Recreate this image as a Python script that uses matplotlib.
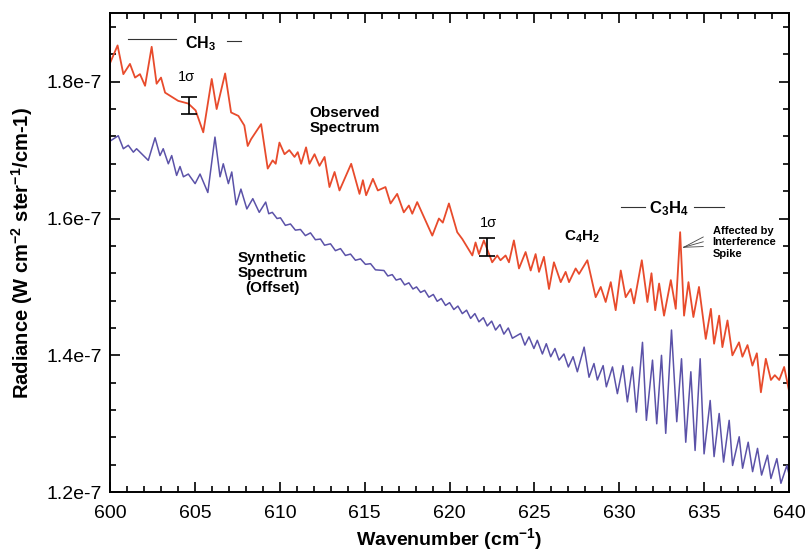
import numpy as np
import matplotlib
matplotlib.use('Agg')
import matplotlib.pyplot as plt
from matplotlib.ticker import MultipleLocator, FuncFormatter

plt.rcParams['font.family'] = ['Liberation Sans', 'DejaVu Sans']
plt.rcParams['mathtext.fontset'] = 'custom'
plt.rcParams['mathtext.rm'] = 'Liberation Sans'
plt.rcParams['mathtext.bf'] = 'Liberation Sans:bold'
plt.rcParams['mathtext.default'] = 'bf'

# Observed spectrum (radiance in units of 1e-7)
obs_wn = [600.00, 600.43, 600.77, 601.16, 601.46, 601.75, 602.05, 602.44, 602.73, 602.99,
          603.23, 604.00, 604.60, 605.03, 605.48, 605.98, 606.27, 606.77, 607.12, 607.55,
          607.90, 608.10, 608.30, 608.89, 609.28, 609.57, 609.75, 609.97, 610.27, 610.55,
          610.86, 611.05, 611.25, 611.54, 611.74, 612.04, 612.33, 612.63, 612.92, 613.22,
          613.51, 614.20, 614.69, 614.89, 615.08, 615.48, 615.77, 616.22, 616.52, 616.91,
          617.30, 617.60, 617.80, 618.09, 618.98, 619.37, 619.60, 619.96, 620.45, 620.75,
          621.34, 621.53, 621.73, 622.02, 622.51, 622.81, 623.00, 623.30, 623.50, 623.79,
          624.09, 624.48, 624.78, 625.07, 625.27, 625.56, 625.86, 626.15, 626.55, 626.84,
          627.04, 627.43, 627.63, 628.12, 628.61, 628.91, 629.20, 629.50, 629.79, 630.09,
          630.38, 630.68, 630.87, 631.33, 631.66, 631.90, 632.12, 632.35, 632.64, 633.04,
          633.33, 633.59, 633.82, 634.08, 634.37, 634.70, 635.10, 635.40, 635.59, 635.89,
          636.08, 636.38, 636.67, 637.06, 637.26, 637.56, 637.85, 638.11, 638.35, 638.64,
          638.94, 639.17, 639.43, 639.72, 640.00]
obs_val = [1.828, 1.853, 1.811, 1.826, 1.806, 1.811, 1.794, 1.851, 1.797, 1.806,
           1.784, 1.772, 1.768, 1.758, 1.726, 1.804, 1.760, 1.812, 1.755, 1.750,
           1.736, 1.706, 1.716, 1.738, 1.673, 1.685, 1.680, 1.711, 1.694, 1.700,
           1.690, 1.697, 1.680, 1.704, 1.680, 1.694, 1.677, 1.690, 1.646, 1.668,
           1.641, 1.680, 1.636, 1.656, 1.634, 1.658, 1.641, 1.646, 1.622, 1.636,
           1.609, 1.619, 1.607, 1.624, 1.575, 1.600, 1.594, 1.622, 1.580, 1.570,
           1.546, 1.565, 1.548, 1.568, 1.536, 1.546, 1.539, 1.546, 1.536, 1.568,
           1.527, 1.551, 1.524, 1.548, 1.522, 1.544, 1.497, 1.536, 1.507, 1.522,
           1.507, 1.527, 1.519, 1.539, 1.485, 1.500, 1.478, 1.507, 1.466, 1.524,
           1.485, 1.497, 1.476, 1.539, 1.478, 1.520, 1.466, 1.505, 1.458, 1.510,
           1.468, 1.580, 1.458, 1.507, 1.456, 1.500, 1.424, 1.468, 1.417, 1.458,
           1.412, 1.451, 1.400, 1.419, 1.398, 1.415, 1.385, 1.403, 1.346, 1.395,
           1.364, 1.371, 1.364, 1.383, 1.349]

# Synthetic spectrum (offset), units of 1e-7
syn_wn = [600.04, 600.47, 600.77, 601.06, 601.36, 601.55, 602.24, 602.64, 602.93, 603.12,
          603.42, 603.62, 603.91, 604.11, 604.31, 604.60, 605.00, 605.29, 605.75, 606.17,
          606.47, 606.66, 606.96, 607.16, 607.42, 607.70, 608.05, 608.40, 608.78, 609.16,
          609.34, 609.55, 609.83, 610.03, 610.32, 610.62, 610.91, 611.21, 611.50, 611.80,
          612.09, 612.39, 612.63, 612.98, 613.27, 613.57, 613.86, 614.16, 614.45, 614.75,
          615.04, 615.34, 615.63, 616.13, 616.36, 616.62, 616.85, 617.11, 617.35, 617.60,
          617.84, 618.05, 618.29, 618.53, 618.78, 619.04, 619.27, 619.51, 619.76, 620.00,
          620.25, 620.49, 620.75, 621.00, 621.24, 621.49, 621.73, 621.99, 622.22, 622.48,
          622.71, 622.97, 623.20, 623.46, 623.70, 624.19, 624.44, 624.68, 624.97, 625.17,
          625.47, 625.70, 625.96, 626.21, 626.45, 626.74, 627.00, 627.28, 627.53, 627.93,
          628.22, 628.51, 628.71, 629.05, 629.24, 629.60, 629.89, 630.22, 630.48, 630.78,
          631.01, 631.37, 631.60, 631.96, 632.21, 632.49, 632.74, 633.08, 633.39, 633.67,
          633.92, 634.22, 634.47, 634.77, 635.00, 635.36, 635.59, 635.89, 636.15, 636.48,
          636.68, 637.07, 637.27, 637.60, 637.86, 638.15, 638.39, 638.74, 638.94, 639.29,
          639.53, 639.88, 640.00]
syn_val = [1.714, 1.721, 1.702, 1.707, 1.697, 1.702, 1.685, 1.718, 1.692, 1.702,
           1.680, 1.692, 1.663, 1.676, 1.661, 1.665, 1.651, 1.665, 1.638, 1.719,
           1.661, 1.680, 1.651, 1.668, 1.620, 1.643, 1.614, 1.629, 1.609, 1.624,
           1.607, 1.609, 1.600, 1.601, 1.590, 1.592, 1.583, 1.584, 1.575, 1.579,
           1.569, 1.570, 1.561, 1.563, 1.553, 1.556, 1.546, 1.548, 1.539, 1.541,
           1.533, 1.534, 1.525, 1.524, 1.516, 1.518, 1.510, 1.512, 1.503, 1.506,
           1.497, 1.500, 1.492, 1.495, 1.485, 1.489, 1.479, 1.483, 1.473, 1.477,
           1.467, 1.472, 1.461, 1.466, 1.454, 1.461, 1.449, 1.455, 1.443, 1.450,
           1.437, 1.445, 1.431, 1.440, 1.425, 1.432, 1.415, 1.427, 1.410, 1.422,
           1.402, 1.417, 1.398, 1.410, 1.393, 1.402, 1.383, 1.398, 1.376, 1.412,
           1.368, 1.388, 1.364, 1.385, 1.354, 1.383, 1.344, 1.385, 1.332, 1.383,
           1.317, 1.419, 1.305, 1.393, 1.300, 1.400, 1.286, 1.437, 1.303, 1.395,
           1.273, 1.376, 1.261, 1.395, 1.256, 1.334, 1.252, 1.315, 1.244, 1.305,
           1.239, 1.281, 1.235, 1.273, 1.230, 1.264, 1.225, 1.254, 1.220, 1.249,
           1.213, 1.239, 1.227]

# 1-sigma error bars
sigma_wn = [604.62, 622.18]
sigma_val = [1.765, 1.5585]
sigma_half = [0.012, 0.0135]

scale = 1e-7
red = '#e84b2c'
blue = '#5b52a8'

fig = plt.figure(figsize=(8.05, 5.53), dpi=100)
ax = fig.add_axes([0.137, 0.110, 0.843, 0.866])

ax.plot(obs_wn, np.array(obs_val) * scale, color=red, lw=1.3)
ax.plot(syn_wn, np.array(syn_val) * scale, color=blue, lw=1.1)

ax.errorbar(sigma_wn, np.array(sigma_val) * scale, yerr=np.array(sigma_half) * scale,
            fmt='none', ecolor='black', elinewidth=1.2, capsize=6, capthick=1.2)
ax.text(604.5, 1.807e-7, '1σ', fontsize=10.5, ha='center', va='center')
ax.text(622.3, 1.593e-7, '1σ', fontsize=10.5, ha='center', va='center')

# molecule labels
ax.plot([601.06, 603.9], [1.863e-7, 1.863e-7], color='#333333', lw=0.8)
ax.plot([606.9, 607.7], [1.860e-7, 1.860e-7], color='#333333', lw=0.8)
ax.text(605.3, 1.856e-7, 'CH$_3$', fontsize=11.5, fontweight='bold', ha='center', va='center')

ax.plot([630.09, 631.5], [1.617e-7, 1.617e-7], color='#333333', lw=0.8)
ax.plot([634.4, 636.18], [1.617e-7, 1.617e-7], color='#333333', lw=0.8)
ax.text(632.94, 1.615e-7, 'C$_3$H$_4$', fontsize=12, fontweight='bold', ha='center', va='center')

ax.text(627.83, 1.573e-7, 'C$_4$H$_2$', fontsize=11, fontweight='bold', ha='center', va='center')

ax.text(613.8, 1.743e-7, 'Observed\nSpectrum', fontsize=11, fontweight='bold',
        ha='center', va='center', linespacing=1.1)
ax.text(609.56, 1.520e-7, 'Synthetic\nSpectrum\n(Offset)', fontsize=11, fontweight='bold',
        ha='center', va='center', linespacing=1.1)

ax.text(635.5, 1.565e-7, 'Affected by\nInterference\nSpike', fontsize=8, fontweight='bold',
        ha='left', va='center', linespacing=1.15)
for ty in [1.573e-7, 1.566e-7, 1.559e-7]:
    ax.plot([633.8, 634.95], [1.558e-7, ty], color='#444444', lw=0.6)

ax.set_xlim(600, 640)
ax.set_ylim(1.2e-7, 1.9e-7)
ax.xaxis.set_major_locator(MultipleLocator(5))
ax.xaxis.set_minor_locator(MultipleLocator(1))
ax.yaxis.set_major_locator(MultipleLocator(2e-8))
ax.yaxis.set_minor_locator(MultipleLocator(4e-9))
ax.yaxis.set_major_formatter(FuncFormatter(lambda v, p: f"{v * 1e7:.1f}e-7"))
ax.tick_params(which='both', direction='in', top=True, right=True, width=1.2, labelsize=14)
ax.tick_params(which='major', length=7)
ax.tick_params(which='minor', length=4)
ax.tick_params(axis='x', which='major', pad=9)
ax.tick_params(axis='y', which='major', pad=6)
for s in ax.spines.values():
    s.set_linewidth(1.4)

ax.set_xlabel('Wavenumber (cm$^{-1}$)', fontsize=14, fontweight='bold', labelpad=3)
ax.set_ylabel('Radiance (W cm$^{-2}$ ster$^{-1}$/cm-1)', fontsize=14.5, fontweight='bold', labelpad=8)

fig.savefig('out.png', dpi=100)
